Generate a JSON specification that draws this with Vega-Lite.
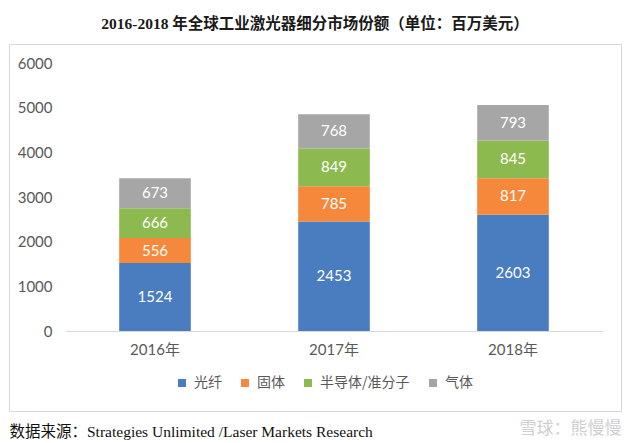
{
  "$schema": "https://vega.github.io/schema/vega-lite/v6.json",
  "autosize": "none",
  "width": 612,
  "height": 367,
  "padding": {"left": 9, "top": 44, "right": 19, "bottom": 32},
  "background": "white",
  "title": {
    "text": "2016-2018 年全球工业激光器细分市场份额（单位：百万美元）",
    "font": "Liberation Serif, Noto Sans CJK SC",
    "fontSize": 15.5,
    "fontWeight": "bold",
    "color": "#1a1a1a",
    "anchor": "middle",
    "offset": 12
  },
  "data": {
    "values": [
      {"year": "2016年", "series": "光纤", "value": 1524, "k": 1},
      {"year": "2016年", "series": "固体", "value": 556, "k": 2},
      {"year": "2016年", "series": "半导体/准分子", "value": 666, "k": 3},
      {"year": "2016年", "series": "气体", "value": 673, "k": 4},
      {"year": "2017年", "series": "光纤", "value": 2453, "k": 1},
      {"year": "2017年", "series": "固体", "value": 785, "k": 2},
      {"year": "2017年", "series": "半导体/准分子", "value": 849, "k": 3},
      {"year": "2017年", "series": "气体", "value": 768, "k": 4},
      {"year": "2018年", "series": "光纤", "value": 2603, "k": 1},
      {"year": "2018年", "series": "固体", "value": 817, "k": 2},
      {"year": "2018年", "series": "半导体/准分子", "value": 845, "k": 3},
      {"year": "2018年", "series": "气体", "value": 793, "k": 4}
    ]
  },
  "transform": [
    {"stack": "value", "groupby": ["year"], "sort": [{"field": "k", "order": "ascending"}], "as": ["v0", "v1"]},
    {"calculate": "(datum.v0 + datum.v1) / 2", "as": "vmid"}
  ],
  "encoding": {
    "x": {
      "field": "year",
      "type": "nominal",
      "sort": null,
      "title": "数据来源：Strategies Unlimited /Laser Markets Research",
      "scale": {"range": [56.5, 593.5], "paddingInner": 0.6, "paddingOuter": 0.3},
      "axis": {
        "orient": "bottom",
        "offset": -80,
        "labelAngle": 0,
        "labelFont": "Lato, Noto Sans CJK SC",
        "labelFontSize": 15,
        "labelColor": "#595959",
        "labelPadding": 11,
        "ticks": false,
        "tickSize": 0,
        "domainColor": "#d9d9d9",
        "domainWidth": 1,
        "grid": false,
        "titleFont": "Liberation Serif, Noto Sans CJK SC",
        "titleFontSize": 15.5,
        "titleFontWeight": "normal",
        "titleColor": "#111111",
        "titleX": 0,
        "titleY": 105,
        "titleAlign": "left",
        "titleAnchor": "start",
        "titleBaseline": "alphabetic"
      }
    }
  },
  "layer": [
    {
      "mark": {"type": "bar"},
      "encoding": {
        "y": {
          "field": "v0",
          "type": "quantitative",
          "title": "雪球：熊慢慢",
          "scale": {"domain": [0, 6000], "range": [287, 19], "nice": false, "zero": true},
          "axis": {
            "values": [0, 1000, 2000, 3000, 4000, 5000, 6000],
            "format": "d",
            "orient": "left",
            "offset": -43,
            "grid": false,
            "domain": false,
            "ticks": false,
            "tickSize": 0,
            "labelPadding": 0,
            "labelFont": "Lato",
            "labelFontSize": 15,
            "labelColor": "#595959",
            "titleAngle": 0,
            "titleFont": "Noto Sans CJK SC",
            "titleFontSize": 17,
            "titleFontWeight": "normal",
            "titleColor": "#cfcfcf",
            "titleX": 569,
            "titleY": 389,
            "titleAlign": "right",
            "titleBaseline": "alphabetic"
          }
        },
        "y2": {"field": "v1"},
        "color": {
          "field": "series",
          "type": "nominal",
          "scale": {
            "domain": ["光纤", "固体", "半导体/准分子", "气体"],
            "range": ["#4a7cc0", "#f5883a", "#8dba4e", "#a6a6a6"]
          },
          "legend": {
            "orient": "none",
            "legendX": 166,
            "legendY": 332,
            "direction": "horizontal",
            "title": null,
            "symbolType": "square",
            "symbolSize": 64,
            "symbolStrokeWidth": 0,
            "labelFont": "Noto Sans CJK SC",
            "labelFontSize": 14,
            "labelColor": "#595959",
            "labelOffset": 5,
            "columnPadding": 16,
            "padding": 0
          }
        }
      }
    },
    {
      "mark": {"type": "text", "color": "white", "font": "Lato", "fontSize": 15, "baseline": "middle", "align": "center"},
      "encoding": {
        "y": {"field": "vmid", "type": "quantitative", "title": "雪球：熊慢慢"},
        "text": {"field": "value", "type": "quantitative"}
      }
    }
  ],
  "config": {
    "view": {"stroke": "#d6d6d6", "strokeWidth": 1}
  }
}
